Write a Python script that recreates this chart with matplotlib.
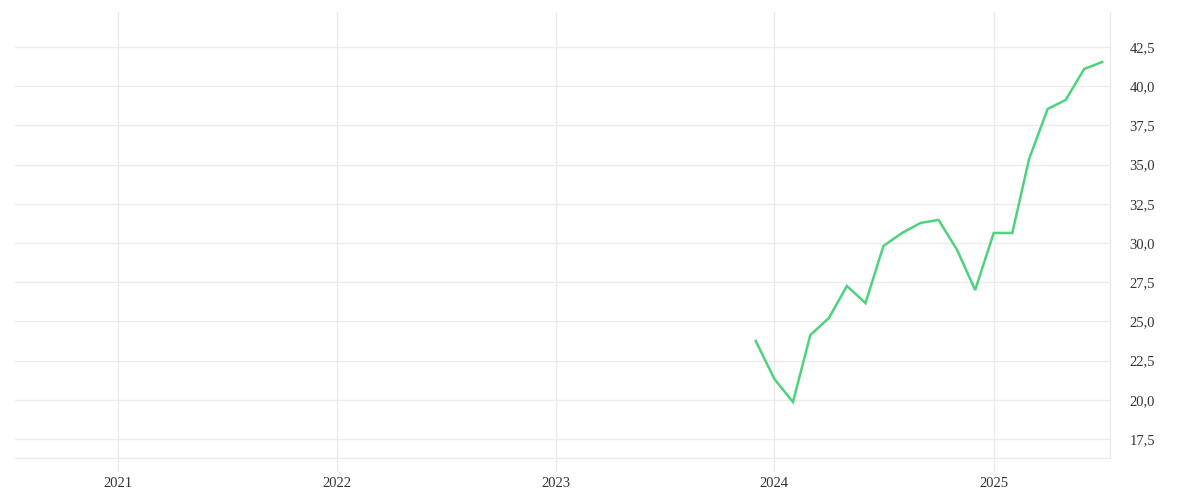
import matplotlib
matplotlib.use("Agg")
import matplotlib.pyplot as plt
import matplotlib.dates as mdates
import matplotlib.ticker as mticker
import pandas as pd

# monthly values
months = ["2023-12", "2024-01", "2024-02", "2024-03", "2024-04", "2024-05",
          "2024-06", "2024-07", "2024-08", "2024-09", "2024-10", "2024-11",
          "2024-12", "2025-01", "2025-02", "2025-03", "2025-04", "2025-05",
          "2025-06", "2025-07"]
values = [23.75, 21.33, 19.86, 24.13, 25.22, 27.26, 26.17, 29.81, 30.64, 31.28,
          31.47, 29.55, 27.0, 30.64, 30.64, 35.36, 38.55, 39.12, 41.1, 41.54]
year_ticks = ["2021", "2022", "2023", "2024", "2025"]
y_ticks = [17.5, 20.0, 22.5, 25.0, 27.5, 30.0, 32.5, 35.0, 37.5, 40.0, 42.5]

plt.rcParams['font.family'] = ['Liberation Serif', 'DejaVu Serif']

grid_col = '#ebebeb'
line_col = '#4cd37b'
text_col = '#333333'

dates = pd.to_datetime(months)

fig = plt.figure(figsize=(12, 5), dpi=100)
ax = fig.add_axes([0.0125, 0.084, 0.9125, 0.892])

ax.plot(dates, values, color=line_col, lw=1.8, solid_joinstyle='miter')

ax.set_xlim(pd.Timestamp("2020-07-13"), pd.Timestamp("2025-07-14"))
ax.set_ylim(16.29, 44.73)

ax.set_xticks(pd.to_datetime(year_ticks))
ax.xaxis.set_major_formatter(mdates.DateFormatter("%Y"))
ax.set_yticks(y_ticks)
ax.yaxis.set_major_formatter(mticker.FuncFormatter(lambda v, p: f"{v:.1f}".replace(".", ",")))

ax.yaxis.tick_right()
ax.grid(True, color=grid_col, lw=1)
ax.set_axisbelow(True)

ax.tick_params(axis='x', length=10, color=grid_col, width=1, labelsize=10.5,
               labelcolor=text_col, pad=4)
ax.tick_params(axis='y', length=0, labelsize=10.5, labelcolor=text_col, pad=14)

for s in ['top', 'left']:
    ax.spines[s].set_visible(False)
for s in ['bottom', 'right']:
    ax.spines[s].set_color(grid_col)
    ax.spines[s].set_linewidth(1)

fig.savefig("out.png", dpi=100, facecolor='white')
